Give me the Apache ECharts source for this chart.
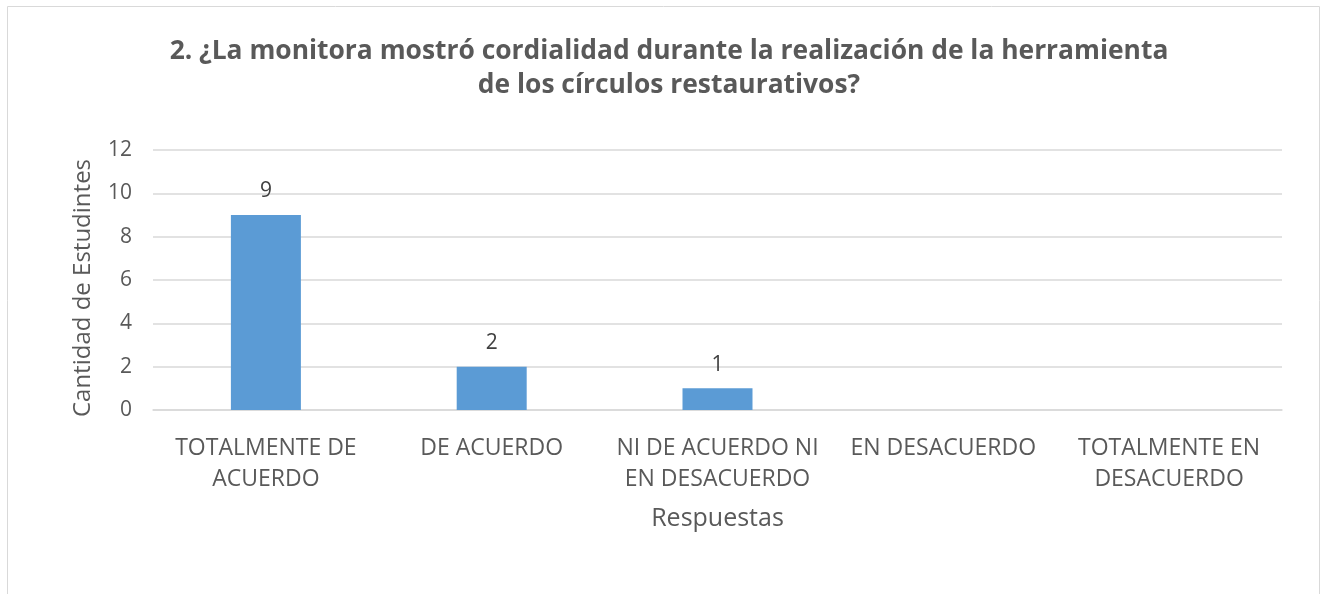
<!DOCTYPE html>
<html>
<head>
<meta charset="utf-8">
<script src="https://cdn.jsdelivr.net/npm/echarts@6/dist/echarts.min.js"></script>
<style>
  html, body { margin: 0; padding: 0; background: #fff; }
  #chart { width: 1324px; height: 594px; }
</style>
</head>
<body>
<div id="chart"></div>
<script>
// categorías y valores
const categorias = [
  'TOTALMENTE DE\nACUERDO',
  'DE ACUERDO',
  'NI DE ACUERDO NI\nEN DESACUERDO',
  'EN DESACUERDO',
  'TOTALMENTE EN\nDESACUERDO'
]
const valores = [9, 2, 1, 0, 0]
const titulo = '2. ¿La monitora mostró cordialidad durante la realización de la herramienta\nde los círculos restaurativos?'

const chart = echarts.init(document.getElementById('chart'))
const fuente = '"Open Sans", "Noto Sans", sans-serif'

chart.setOption({
  animation: false,
  textStyle: { fontFamily: fuente },
  // marco del gráfico
  graphic: [{
    type: 'rect',
    shape: { x: 7.5, y: 6.5, width: 1312, height: 600 },
    style: { fill: 'none', stroke: '#D9D9D9', lineWidth: 1 },
    silent: true
  }],
  title: {
    text: titulo,
    left: 664,
    top: 29,
    textAlign: 'center',
    textStyle: {
      fontFamily: fuente,
      fontSize: 26.4,
      fontWeight: 'bold',
      color: '#595959',
      lineHeight: 34
    }
  },
  grid: { left: 153, right: 42, top: 150, bottom: 184 },
  xAxis: {
    type: 'category',
    data: categorias,
    name: 'Respuestas',
    nameLocation: 'middle',
    nameGap: 96,
    nameTextStyle: { fontSize: 25, color: '#595959' },
    axisLine: { lineStyle: { color: '#D9D9D9', width: 1.5 } },
    axisTick: { show: false },
    axisLabel: {
      interval: 0,
      margin: 23,
      fontSize: 23,
      lineHeight: 31,
      color: '#595959'
    }
  },
  yAxis: {
    type: 'value',
    min: 0,
    max: 12,
    interval: 2,
    name: 'Cantidad de Estudintes',
    nameLocation: 'middle',
    nameGap: 58,
    // desplaza el título un poco hacia abajo
    nameTextStyle: { fontSize: 24, color: '#595959', padding: [0, 16, 0, 0] },
    axisLine: { show: false },
    axisTick: { show: false },
    axisLabel: { fontSize: 21, color: '#595959', margin: 21 },
    splitLine: { lineStyle: { color: '#D9D9D9', width: 1.5 } }
  },
  series: [{
    type: 'bar',
    barWidth: '31%',
    itemStyle: { color: '#5B9BD5' },
    label: {
      show: true,
      position: 'top',
      distance: 13,
      fontSize: 21,
      color: '#404040',
      formatter: (p) => (p.value === 0 ? '' : p.value)
    },
    data: valores
  }]
})
</script>
</body>
</html>
